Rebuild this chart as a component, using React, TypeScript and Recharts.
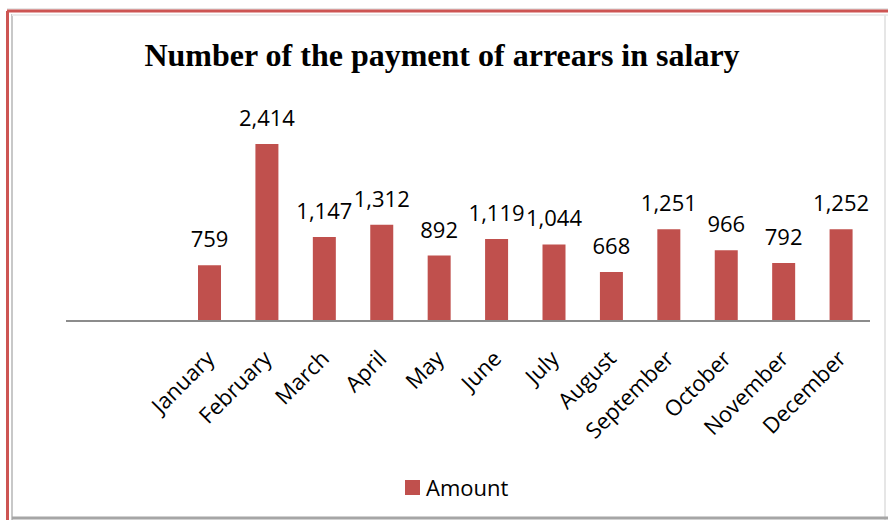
import React from "react";
import { BarChart, Bar, XAxis, YAxis, LabelList } from "recharts";

const months = ["January", "February", "March", "April", "May", "June", "July", "August", "September", "October", "November", "December"];
const amounts = [759, 2414, 1147, 1312, 892, 1119, 1044, 668, 1251, 966, 792, 1252];
const seriesName = "Amount";
const title = "Number of the payment of arrears in salary";

const data = months.map((m, i) => ({ month: m, amount: amounts[i] }));

const BAR = "#C0504D";
const SANS = "'Open Sans', 'Noto Sans', sans-serif";

const MonthTick = (props: any) => {
  const { x, y, payload } = props;
  const ax = x + 6;
  const ay = y + 31;
  return (
    <text
      x={ax}
      y={ay}
      textAnchor="end"
      fontFamily={SANS}
      fontSize={22}
      fill="#000"
      transform={`rotate(-45 ${ax} ${ay})`}
    >
      {payload.value}
    </text>
  );
};

const fmt = (v: any) => Number(v).toLocaleString("en-US");

export default function App() {
  return (
    <div style={{ position: "absolute", left: 0, top: 0, width: 888, height: 520, background: "#fff", overflow: "hidden" }}>
      <BarChart
        width={888}
        height={520}
        data={data}
        margin={{ top: 101, left: 66, right: 18, bottom: 139 }}
        barCategoryGap={0}
      >
        <YAxis hide domain={[0, 3000]} />
        <XAxis
          dataKey="month"
          height={60}
          padding={{ left: 115, right: 0 }}
          axisLine={{ stroke: "#8c8c8c", strokeWidth: 2 }}
          tickLine={false}
          interval={0}
          tick={<MonthTick />}
        />
        <Bar dataKey="amount" name={seriesName} fill={BAR} barSize={23} isAnimationActive={false}>
          <LabelList
            dataKey="amount"
            position="top"
            offset={18}
            formatter={fmt}
            style={{ fontFamily: SANS, fontSize: 22, fill: "#000" }}
          />
        </Bar>
      </BarChart>
      <svg width={888} height={520} style={{ position: "absolute", left: 0, top: 0, pointerEvents: "none" }}>
        <text x={442} y={66} textAnchor="middle" fontFamily="'Liberation Serif', 'Times New Roman', serif" fontWeight="bold" fontSize={32} fill="#000">
          {title}
        </text>
        <line x1={7} y1={9} x2={888} y2={9} stroke="#cfcfcf" strokeWidth={1} />
        <line x1={7} y1={11} x2={888} y2={11} stroke="#cd5553" strokeWidth={3} />
        <line x1={7.5} y1={11} x2={7.5} y2={520} stroke="#cd5553" strokeWidth={3} />
        <line x1={12} y1={14} x2={12} y2={520} stroke="#c8c8c8" strokeWidth={2} />
        <line x1={12} y1={15} x2={888} y2={15} stroke="#ececec" strokeWidth={2} />
        <line x1={885} y1={15} x2={885} y2={520} stroke="#e6e6e6" strokeWidth={2} />
        <line x1={12} y1={518} x2={888} y2={518} stroke="#a6a6a6" strokeWidth={3} />
      </svg>
      <div style={{ position: "absolute", left: 405, top: 472, height: 30, display: "flex", alignItems: "center", fontFamily: SANS, fontSize: 22, color: "#000" }}>
        <span style={{ display: "inline-block", width: 15, height: 15, background: BAR, marginRight: 6 }} />
        <span>{seriesName}</span>
      </div>
    </div>
  );
}
